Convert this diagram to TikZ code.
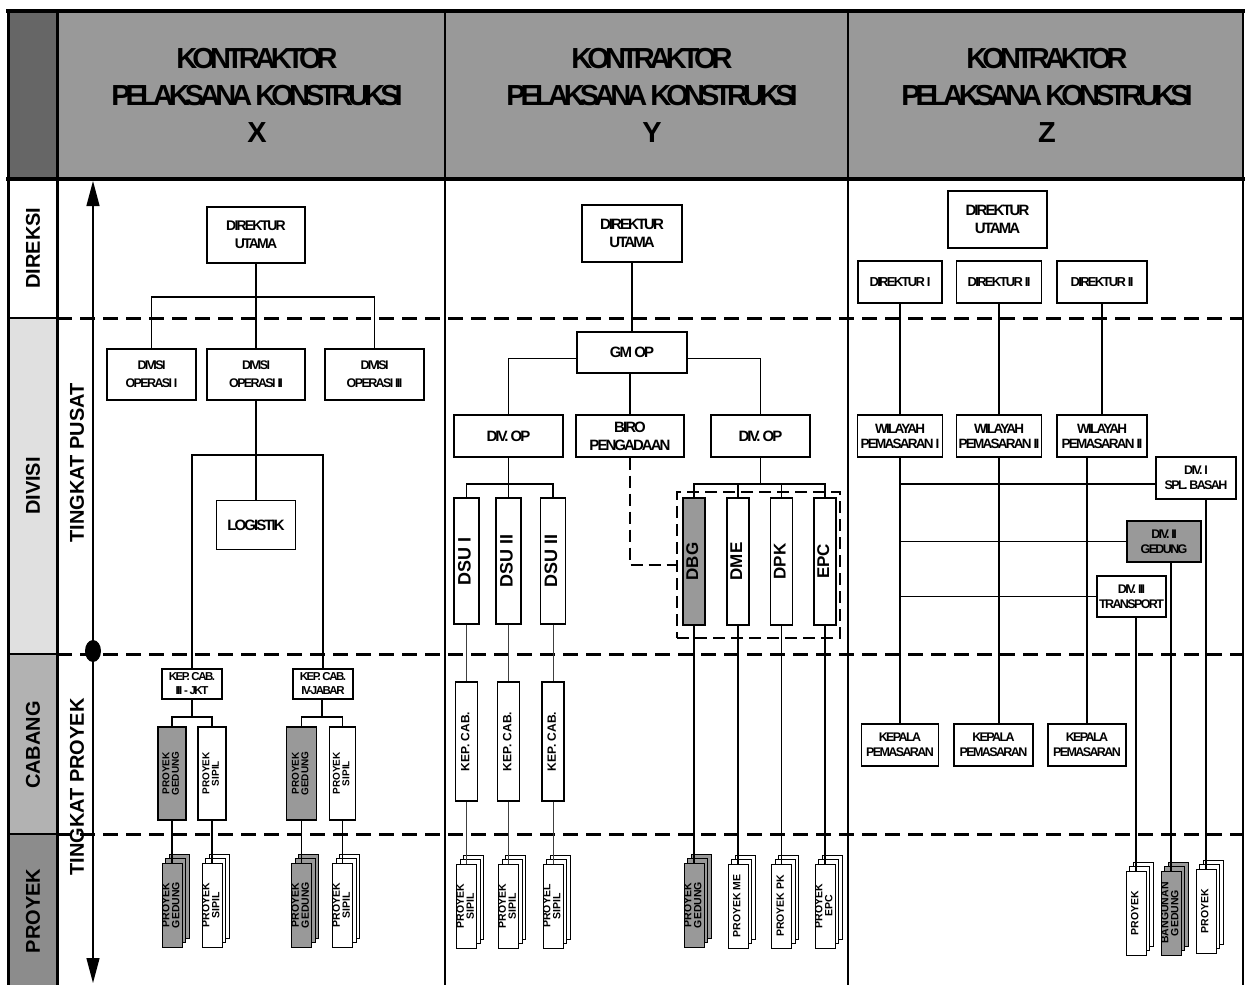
\documentclass[tikz,border=0pt]{standalone}
\usepackage{fontspec}
\usepackage{graphicx}
\setmainfont{Liberation Sans}
\newfontfamily\tightfont[LetterSpace=-13]{Liberation Sans}
\newfontfamily\headfont[LetterSpace=-17]{Liberation Sans}
\usetikzlibrary{arrows.meta,shapes.geometric}

\definecolor{hdrgray}{HTML}{999999}
\definecolor{hdrdark}{HTML}{666666}
\definecolor{lightband}{HTML}{E0E0E0}
\definecolor{midband}{HTML}{B2B2B2}
\definecolor{darkband}{HTML}{8C8C8C}
\definecolor{boxgray}{HTML}{999999}

% condensed bold for horizontal box text, plain bold for rotated text
\newcommand\tfont[2]{\tightfont\bfseries\fontsize{#1}{#2}\selectfont}
\newcommand\nfont[2]{\bfseries\fontsize{#1}{#2}\selectfont}
\newcommand\rotlbl[1]{\rotatebox{90}{\begin{tabular}{@{}c@{}}#1\end{tabular}}}
% a pile of three project sheets: name, x, y, fill, text
\newcommand\projstack[5]{%
  \node[pbox, fill=#4] (#1c) at (#2+7,#3-9) {};
  \node[pbox, fill=#4] (#1b) at (#2+3.5,#3-4.5) {};
  \node[pbox, fill=#4] (#1) at (#2,#3) {\rotlbl{#5}};}

\tikzset{
  wh/.style 2 args={minimum width=#1, minimum height=#2},
  box/.style={draw=black, line width=1.1pt, fill=white, inner sep=0pt, align=center},
  vbox/.style={draw=black, line width=1.1pt, fill=white, inner sep=0pt},
  pbox/.style={draw=black, line width=0.8pt, inner sep=0pt, wh={20}{84}, font=\nfont{10.5}{9}},
  link/.style={line width=1.4pt},
  thinlink/.style={line width=0.8pt, draw=black!75},
  seprow/.style={line width=3pt, dash pattern=on 15pt off 8pt},
  grouprow/.style={line width=2.5pt, dash pattern=on 12pt off 6pt},
  headtxt/.style={align=center, font=\headfont\bfseries\fontsize{29}{37}\selectfont},
  bandtxt/.style={rotate=90, font=\nfont{20}{22}},
}

\begin{document}
\begin{tikzpicture}[x=1pt,y=-1pt]
\useasboundingbox (0,0) rectangle (1246,985);

% ---- bands and frame ----
\fill[hdrgray] (57,11) rectangle (1243,179);
\fill[hdrdark] (8,11) rectangle (57,179);
\fill[lightband] (8,318) rectangle (57,654);
\fill[midband] (8,654) rectangle (57,834);
\fill[darkband] (8,834) rectangle (57,985);

\draw[line width=2pt] (445,11) -- (445,985);
\draw[line width=2pt] (848,11) -- (848,985);
\draw[line width=2pt] (1243,11) -- (1243,985);
\draw[line width=3pt] (8,11) -- (8,985);
\draw[line width=3pt] (57,11) -- (57,985);
\foreach \yy in {318,654,834} {
  \draw[line width=2.5pt] (8,\yy) -- (57,\yy);
  \draw[seprow] (57,\yy) -- (1243,\yy);
}
\draw[line width=4.5pt] (6,11) -- (1245,11);
\draw[line width=4.5pt] (6,179) -- (1245,179);

% ---- column titles ----
\node[headtxt] (hx) at (257,95) {KONTRAKTOR\\PELAKSANA KONSTRUKSI\\X};
\node[headtxt] (hy) at (652,95) {KONTRAKTOR\\PELAKSANA KONSTRUKSI\\Y};
\node[headtxt] (hz) at (1047,95) {KONTRAKTOR\\PELAKSANA KONSTRUKSI\\Z};

% ---- level labels ----
\node[bandtxt] (ldir) at (33,248) {DIREKSI};
\node[bandtxt] (ldiv) at (33,486) {DIVISI};
\node[bandtxt] (lcab) at (33,745) {CABANG};
\node[bandtxt] (lpro) at (33,911) {PROYEK};
\node[bandtxt] (lpusat) at (77,463) {TINGKAT PUSAT};
\node[bandtxt] (lproyek) at (77,787) {TINGKAT PROYEK};

% ---- level axis ----
\coordinate (aTop) at (93,181);
\coordinate (aBot) at (93,983);
\draw[line width=1.3pt, {Triangle[width=13pt,length=25pt]}-{Triangle[width=13pt,length=25pt]}] (aTop) -- (aBot);
\node[ellipse, fill=black, inner sep=0pt, wh={16}{22}] (adot) at (93,651) {};

% ================= column X =================
\node[box, wh={98}{56}, font=\tfont{14}{18}] (xdu) at (256,235) {DIREKTUR\\UTAMA};
\node[box, wh={89}{51}, font=\tfont{12.5}{18}] (xd1) at (151.5,374.5) {DIVISI\\OPERASI I};
\node[box, wh={98}{51}, font=\tfont{12.5}{18}] (xd2) at (256,374.5) {DIVISI\\OPERASI II};
\node[box, wh={99}{51}, font=\tfont{12.5}{18}] (xd3) at (374.5,374.5) {DIVISI\\OPERASI III};
\node[box, wh={79}{49}, font=\tfont{15}{18}] (xlog) at (256,525) {LOGISTIK};
\node[box, wh={60}{30}, font=\tfont{11.5}{14}] (xk1) at (192,684) {KEP. CAB.\\III - JKT};
\node[box, wh={60}{30}, font=\tfont{11.5}{14}] (xk2) at (323,684) {KEP. CAB.\\IV-JABAR};
\node[vbox, fill=boxgray, wh={28}{93}, font=\nfont{10}{9}] (xg1) at (172,773.5) {\rotlbl{PROYEK\\GEDUNG}};
\node[vbox, wh={28}{93}, font=\nfont{10}{9}] (xs1) at (212,773.5) {\rotlbl{PROYEK\\SIPIL}};
\node[vbox, fill=boxgray, wh={30}{93}, font=\nfont{10}{9}] (xg2) at (301.5,773.5) {\rotlbl{PROYEK\\GEDUNG}};
\node[vbox, wh={26}{93}, font=\nfont{10}{9}] (xs2) at (342.5,773.5) {\rotlbl{PROYEK\\SIPIL}};
\projstack{xpg1}{172}{905}{boxgray}{PROYEK\\GEDUNG}
\projstack{xps1}{212}{905}{white}{PROYEK\\SIPIL}
\projstack{xpg2}{301.5}{905}{boxgray}{PROYEK\\GEDUNG}
\projstack{xps2}{342.5}{905}{white}{PROYEK\\SIPIL}

\coordinate (xj1) at (256,297);
\coordinate (xj2) at (256,455);
\coordinate (xj3) at (192,717);
\coordinate (xj4) at (322,717);
\draw[link] (xdu) -- (xd2);
\draw[link] (xd1.north) |- (xj1) -| (xd3.north);
\draw[link] (xd2) -- (xlog);
\draw[link] (xk1.north) |- (xj2) -| (xk2.north);
\draw[link] (xk1) -- (xj3);
\draw[link] (xg1.north) |- (xj3) -| (xs1.north);
\draw[link] (xk2.south -| xj4) -- (xj4);
\draw[link] (xg2.north) |- (xj4) -| (xs2.north);
\draw[link] (xg1) -- (xpg1);
\draw[link] (xs1) -- (xps1);
\draw[link] (xg2) -- (xpg2);
\draw[link] (xs2) -- (xps2);

% ================= column Y =================
\node[box, wh={100}{57}, font=\tfont{15}{18}] (ydu) at (632,233.5) {DIREKTUR\\UTAMA};
\node[box, wh={110}{41}, font=\tfont{15}{18}] (ygm) at (632,352.5) {GM OP};
\node[box, wh={109}{42}, font=\tfont{15}{18}] (ydv1) at (508.5,436) {DIV. OP};
\node[box, wh={108}{42}, font=\tfont{15}{18}] (ybiro) at (630,436) {BIRO\\PENGADAAN};
\node[box, wh={99}{42}, font=\tfont{15}{18}] (ydv2) at (760.5,436) {DIV. OP};
\node[vbox, wh={25}{126}, font=\nfont{18}{20}] (yds1) at (466.5,561) {\rotlbl{DSU I}};
\node[vbox, wh={25}{126}, font=\nfont{18}{20}] (yds2) at (508.5,561) {\rotlbl{DSU II}};
\node[vbox, wh={25}{126}, font=\nfont{18}{20}] (yds3) at (553,561) {\rotlbl{DSU II}};
\node[vbox, wh={22}{119}, font=\nfont{12}{14}] (ykc1) at (466.5,741.5) {\rotlbl{KEP. CAB.}};
\node[vbox, wh={22}{119}, font=\nfont{12}{14}] (ykc2) at (508.5,741.5) {\rotlbl{KEP. CAB.}};
\node[vbox, wh={22}{119}, font=\nfont{12}{14}] (ykc3) at (553,741.5) {\rotlbl{KEP. CAB.}};
\projstack{yps1}{466.5}{906}{white}{PROYEK\\SIPIL}
\projstack{yps2}{508.5}{906}{white}{PROYEK\\SIPIL}
\projstack{yps3}{553}{906}{white}{PROYEL\\SIPIL}

\node[draw=black, grouprow, inner sep=0pt, wh={163}{146}] (ygrp) at (758.5,565) {};
\node[vbox, fill=boxgray, wh={22}{127}, font=\nfont{17}{20}] (ydbg) at (694,561.5) {\rotlbl{DBG}};
\node[vbox, wh={22}{127}, font=\nfont{17}{20}] (ydme) at (738,561.5) {\rotlbl{DME}};
\node[vbox, wh={22}{127}, font=\nfont{17}{20}] (ydpk) at (781.5,561.5) {\rotlbl{DPK}};
\node[vbox, wh={22}{127}, font=\nfont{17}{20}] (yepc) at (825,561.5) {\rotlbl{EPC}};
\projstack{ypg}{694}{905}{boxgray}{PROYEK\\GEDUNG}
\projstack{ypme}{738}{906}{white}{PROYEK ME}
\projstack{yppk}{781.5}{906}{white}{PROYEK PK}
\projstack{ypepc}{825}{906}{white}{PROYEK\\EPC}

\coordinate (yj1) at (508.5,484);
\coordinate (yj2) at (760.5,484);
\draw[link] (ydu) -- (ygm);
\draw[link] ([yshift=-6pt]ygm.west) -| (ydv1.north);
\draw[link] ([yshift=-6pt]ygm.east) -| (ydv2.north);
\draw[link] (ybiro.north |- ygm.south) -- (ybiro.north);
\draw[link] (ydv1) -- (yds2);
\draw[link] (yds1.north) |- (yj1) -| (yds3.north);
\draw[link] (ydv2) -- (yj2);
\draw[link] (ydbg.north) |- (yj2) -| (yepc.north);
\draw[link] (ydme.north) -- (ydme.north |- yj2);
\draw[link] (ydpk.north) -- (ydpk.north |- yj2);
\draw[grouprow] (ybiro.south) |- (ygrp.west);
\draw[thinlink] (yds1) -- (ykc1);
\draw[thinlink] (yds2) -- (ykc2);
\draw[thinlink] (yds3) -- (ykc3);
\draw[thinlink] (ykc1) -- (yps1);
\draw[thinlink] (ykc2) -- (yps2);
\draw[thinlink] (ykc3) -- (yps3);
\draw[link] (ydbg) -- (ypg);
\draw[link] (ydme) -- (ypme);
\draw[link] (ydpk) -- (yppk);
\draw[link] (yepc) -- (ypepc);

% ================= column Z =================
\node[box, wh={99}{57}, font=\tfont{15}{18}] (zdu) at (997.5,219.5) {DIREKTUR\\UTAMA};
\node[box, wh={84}{42}, font=\tfont{13}{16}] (zd1) at (900,282) {DIREKTUR I};
\node[box, wh={85}{42}, font=\tfont{13}{16}] (zd2) at (999,282) {DIREKTUR II};
\node[box, wh={90}{42}, font=\tfont{13}{16}] (zd3) at (1102,282) {DIREKTUR II};
\node[box, wh={85}{42}, font=\tfont{13.5}{15}] (zw1) at (900,436) {WILAYAH\\PEMASARAN I};
\node[box, wh={85}{42}, font=\tfont{13.5}{15}] (zw2) at (999,436) {WILAYAH\\PEMASARAN II};
\node[box, wh={90}{42}, font=\tfont{13.5}{15}] (zw3) at (1102,436) {WILAYAH\\PEMASARAN II};
\node[box, wh={80}{42}, font=\tfont{12.5}{15}] (zdv1) at (1196,478) {DIV. I\\SPL. BASAH};
\node[box, fill=boxgray, wh={74}{41}, font=\tfont{12.5}{15}] (zdv2) at (1164,541.5) {DIV. II\\GEDUNG};
\node[box, wh={69}{41}, font=\tfont{12.5}{15}] (zdv3) at (1131.5,596.5) {DIV. III\\TRANSPORT};
\node[box, wh={77}{42}, font=\tfont{12.5}{15}] (zk1) at (900,745) {KEPALA\\PEMASARAN};
\node[box, wh={79}{42}, font=\tfont{12.5}{15}] (zk2) at (993.5,745) {KEPALA\\PEMASARAN};
\node[box, wh={78}{42}, font=\tfont{12.5}{15}] (zk3) at (1087,745) {KEPALA\\PEMASARAN};
\projstack{zp1}{1136}{913}{white}{PROYEK}
\projstack{zp2}{1171}{913}{boxgray}{BANGUNAN\\GEDUNG}
\projstack{zp3}{1206}{911}{white}{PROYEK}

\draw[link] (zd1) -- (zw1);
\draw[link] (zd2) -- (zw2);
\draw[link] (zd3) -- (zw3);
\draw[link] (zw1) -- (zk1);
\draw[link] (zw2.south) -- (zw2.south |- zk2.north);
\draw[link] (zk3.north |- zw3.south) -- (zk3.north);
\draw[link] ([yshift=-6pt]zdv1.west) -- ([yshift=-6pt]zdv1.west -| zw1.south);
\draw[link] (zdv2.west) -- (zdv2.west -| zw1.south);
\draw[link] (zdv3.west) -- (zdv3.west -| zw1.south);
\draw[link] (zdv3.south -| zp1.north) -- (zp1.north);
\draw[link] (zdv2.south -| zp2.north) -- (zp2.north);
\draw[link] (zdv1.south -| zp3.north) -- (zp3.north);
\end{tikzpicture}
\end{document}
